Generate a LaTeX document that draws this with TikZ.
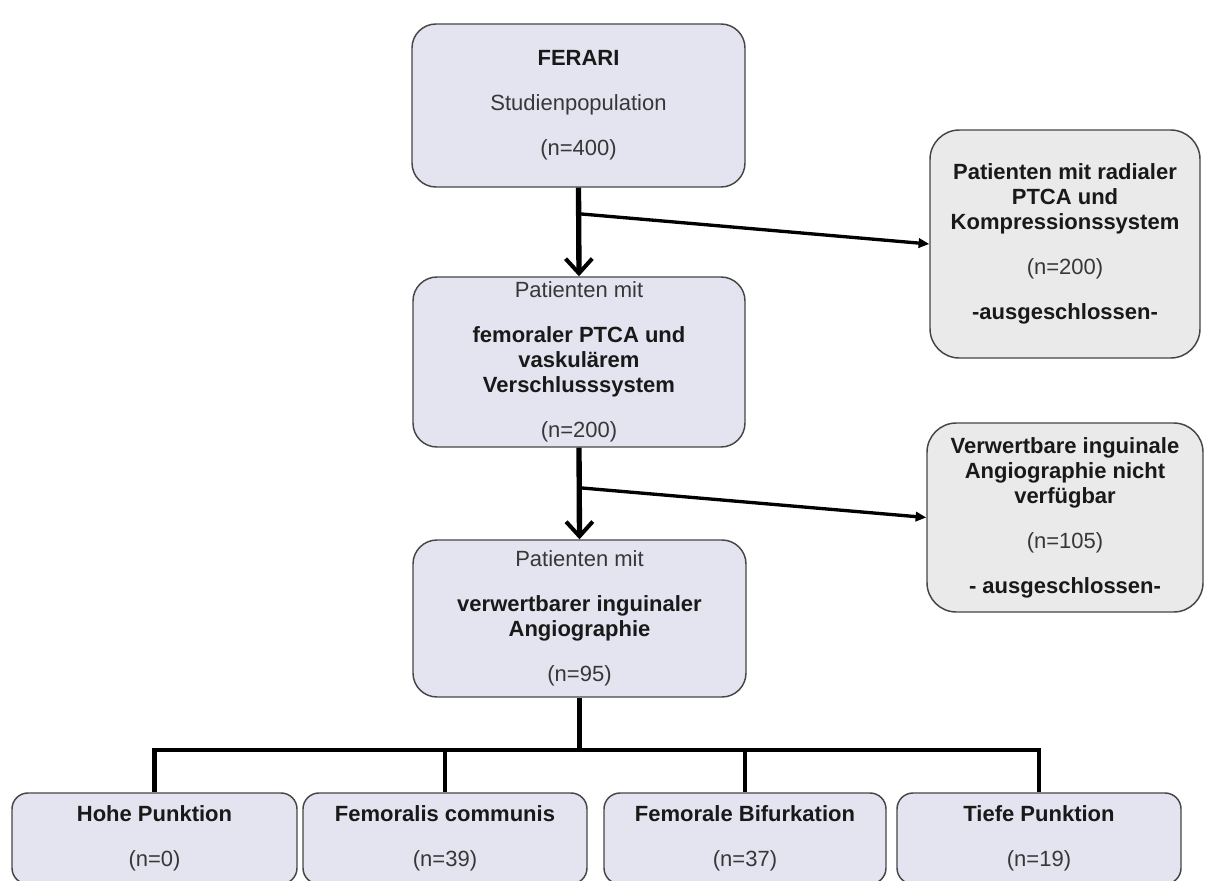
\documentclass[tikz,border=0pt]{standalone}
\usepackage{fontspec}
\setmainfont{Liberation Sans}
\usetikzlibrary{arrows.meta,calc}
\definecolor{lav}{RGB}{228,228,241}
\definecolor{grayfill}{RGB}{234,234,234}
\definecolor{edge}{RGB}{70,70,70}
\definecolor{txt}{RGB}{25,25,25}
\definecolor{txtlight}{RGB}{55,55,55}
\newcommand{\pg}{15pt}
\begin{document}
\begin{tikzpicture}[x=0.75pt,y=-0.75pt,
  boxbase/.style={draw=edge, line width=1.1pt, align=center, inner sep=0pt,
    text=txt, font=\fontsize{16.5}{18.75}\selectfont},
  lbox/.style={boxbase, fill=lav, rounded corners=18pt},
  rbox/.style={boxbase, fill=grayfill, rounded corners=22pt},
  bbox/.style={boxbase, fill=lav, rounded corners=12pt},
  mainarrow/.style={line width=4pt, -{Straight Barb[length=11pt,width=20pt,line width=3pt]}},
  sidearrow/.style={line width=2.5pt, -{Triangle[length=8pt,width=7pt]}},
  treeline/.style={line width=3.2pt}
]
\clip (0,0) rectangle (1206,881);
\fill[white] (0,0) rectangle (1206,881);

% main column
\node[lbox, minimum width=249.75pt, minimum height=122.25pt] (top) at (578.5,105.5)
  {\textbf{FERARI}\\[\pg]\textcolor{txtlight}{Studienpopulation}\\[\pg]\textcolor{txtlight}{(n=400)}};
\node[lbox, minimum width=249pt, minimum height=127.5pt] (mid) at (579,362)
  {\textcolor{txtlight}{Patienten mit}\\[\pg]\textbf{femoraler PTCA und}\\\textbf{vaskulärem}\\\textbf{Verschlusssystem}\\[\pg]\textcolor{txtlight}{(n=200)}};
\node[lbox, minimum width=249.75pt, minimum height=117.75pt] (low) at (579.5,618.5)
  {\textcolor{txtlight}{Patienten mit}\\[\pg]\textbf{verwertbarer inguinaler}\\\textbf{Angiographie}\\[\pg]\textcolor{txtlight}{(n=95)}};

% excluded boxes
\node[rbox, minimum width=202.5pt, minimum height=171pt] (r1) at (1065,244)
  {\textbf{Patienten mit radialer}\\\textbf{PTCA und}\\\textbf{Kompressionssystem}\\[\pg]\textcolor{txtlight}{(n=200)}\\[\pg]\textbf{-ausgeschlossen-}};
\node[rbox, minimum width=207pt, minimum height=141.75pt] (r2) at (1065,517.5)
  {\textbf{Verwertbare inguinale}\\\textbf{Angiographie nicht}\\\textbf{verfügbar}\\[\pg]\textcolor{txtlight}{(n=105)}\\[\pg]\textbf{- ausgeschlossen-}};

% bottom boxes
\node[bbox, minimum width=213.75pt, minimum height=68.25pt] (b1) at (154.5,838.5)
  {\textbf{Hohe Punktion}\\[\pg]\textcolor{txtlight}{(n=0)}};
\node[bbox, minimum width=213pt, minimum height=68.25pt] (b2) at (445,838.5)
  {\textbf{Femoralis communis}\\[\pg]\textcolor{txtlight}{(n=39)}};
\node[bbox, minimum width=211.5pt, minimum height=68.25pt] (b3) at (745,838.5)
  {\textbf{Femorale Bifurkation}\\[\pg]\textcolor{txtlight}{(n=37)}};
\node[bbox, minimum width=213pt, minimum height=68.25pt] (b4) at (1039,838.5)
  {\textbf{Tiefe Punktion}\\[\pg]\textcolor{txtlight}{(n=19)}};

% connectors
\draw[mainarrow] (top.south) -- (mid.north);
\path (top.south) ++(0,26) coordinate (br1);
\draw[sidearrow] (br1) -- (r1.west);

\draw[mainarrow] (mid.south) -- (low.north);
\path (mid.south) ++(0,40) coordinate (br2);
\draw[sidearrow] (br2) -- (r2.west);

\coordinate (hub) at (579.5,750);
\draw[treeline] (low.south) -- (hub);
\draw[treeline, line join=miter] (b1.north) -- (b1.north |- hub) -- (b4.north |- hub) -- (b4.north);
\draw[treeline] (b2.north) -- (b2.north |- hub);
\draw[treeline] (b3.north) -- (b3.north |- hub);
\end{tikzpicture}
\end{document}
